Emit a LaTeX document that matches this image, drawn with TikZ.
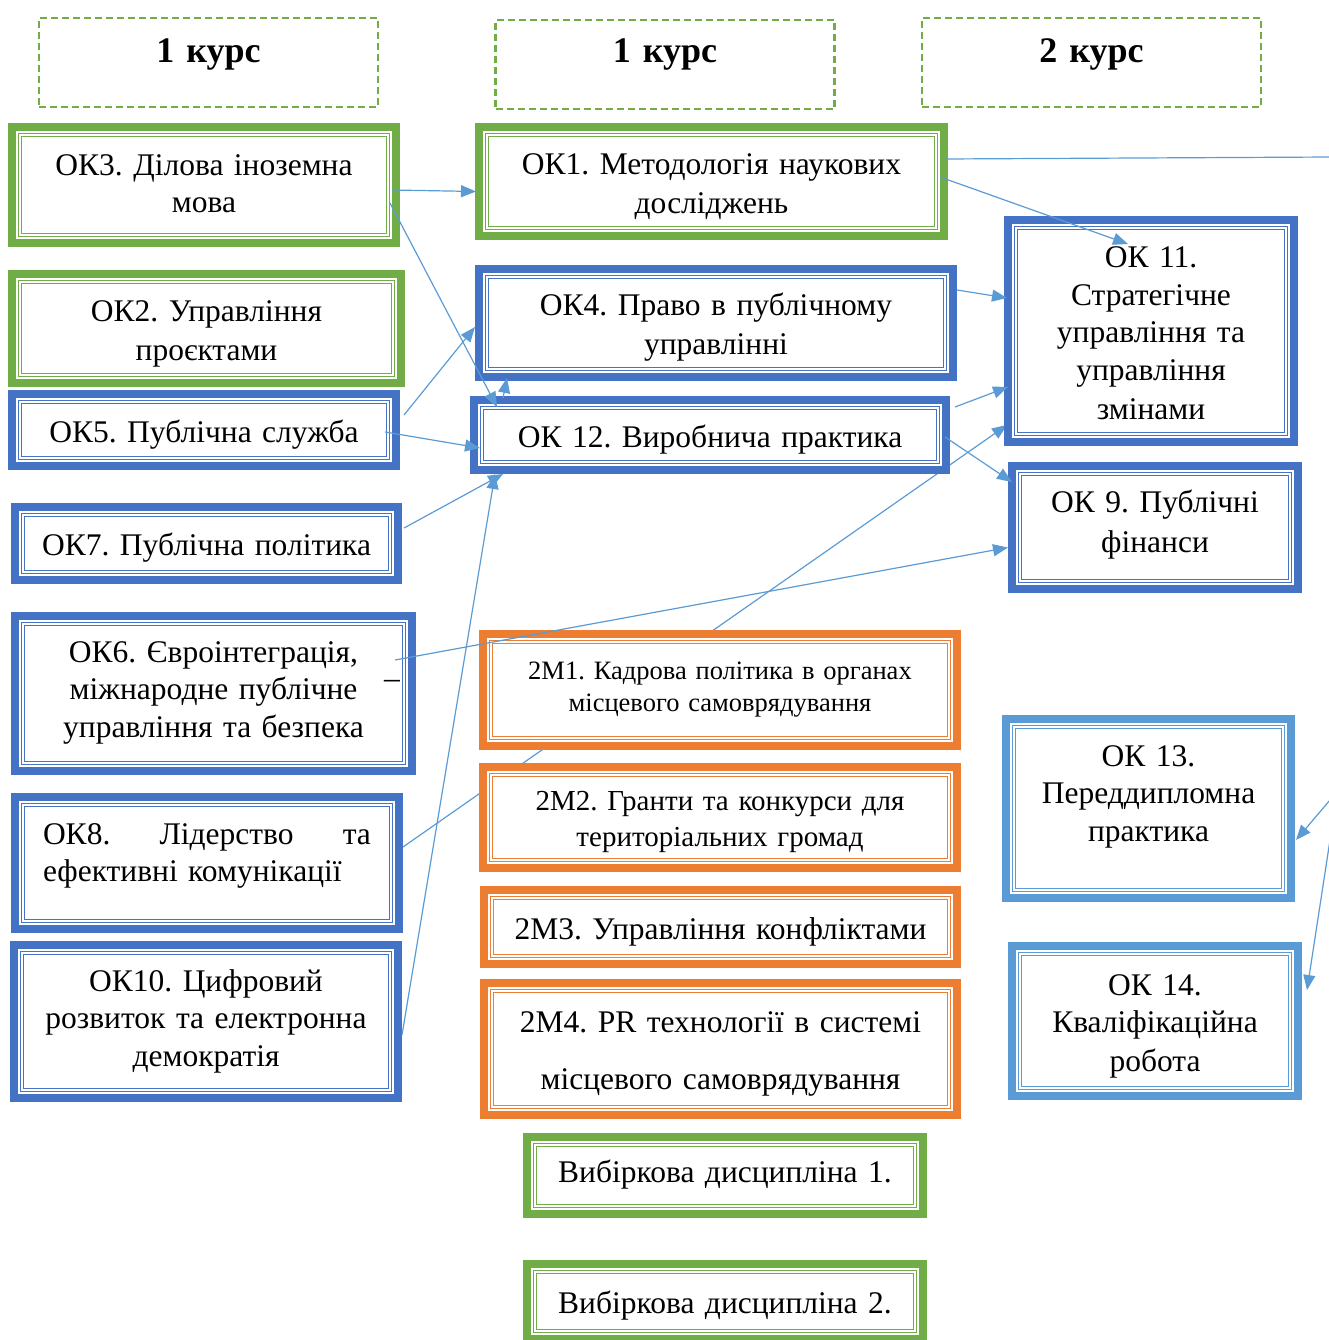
\documentclass[tikz,border=0pt]{standalone}
\usepackage{fontspec}
\setmainfont{Liberation Serif}
\usetikzlibrary{arrows.meta, backgrounds}
\frenchspacing

\definecolor{kgreen}{RGB}{112,173,71}
\definecolor{kblue}{RGB}{68,114,196}
\definecolor{korange}{RGB}{237,125,49}
\definecolor{klight}{RGB}{91,155,213}

% line strut, so that every box centres its lines the same way
\newcommand{\linestrut}{\rule[-0.2em]{0pt}{1.19em}}
% empty last line, pushes the text up in its box
\newcommand{\padlow}[1]{\\[#1]\mbox{}}

\tikzset{
  size/.style 2 args={minimum width=#1pt, minimum height=#2pt, text width=#1pt},
  course/.style={draw=kgreen, line width=2.2pt, dash pattern=on 7pt off 4pt,
    size={339}{89}, inner sep=0pt, align=center,
    font=\bfseries\fontsize{36pt}{43pt}\selectfont,
    execute at begin node=\linestrut, execute at end node=\linestrut},
  disc/.style={draw=#1, line width=8pt, fill=white, inner sep=0pt, outer sep=0pt,
    align=center, font=\fontsize{31.5pt}{37.5pt}\selectfont,
    execute at begin node=\linestrut, execute at end node=\linestrut,
    path picture={\draw[#1, line width=1.3pt, double=white, double distance=2pt]
      ([shift={(8pt,-8pt)}]path picture bounding box.north west) rectangle
      ([shift={(-8pt,8pt)}]path picture bounding box.south east);}},
  link/.style={draw=klight, line width=1.2pt},
  arrowlink/.style={link, -{Triangle[length=15pt,width=12pt]}},
}

\begin{document}
\begin{tikzpicture}[x=1pt, y=-1pt]
\useasboundingbox (0,0) rectangle (1328,1340);

% courses
\node[course] (year1a) at (208.5,62.5) {1 курс\padlow{-15.5pt}};
\node[course] (year1b) at (665,64.5) {1 курс\padlow{-11.5pt}};
\node[course] (year2) at (1091.5,62.5) {2 курс\padlow{-15.5pt}};

% left column
\node[disc=kgreen, size={384}{116}] (ok3) at (204,185)
  {ОК3. Ділова іноземна\\мова\padlow{-30.5pt}};
\node[disc=kgreen, size={389}{109}] (ok2) at (206.5,328.5)
  {ОК2. Управління\\проєктами};
\node[disc=kblue, size={384}{72}] (ok5) at (204,430)
  {ОК5. Публічна служба};
\node[disc=kblue, size={383}{73}] (ok7) at (206.5,543.5)
  {ОК7. Публічна політика};
\node[disc=kblue, size={397}{155}] (ok6) at (213.5,693.5)
  {ОК6. Євроінтеграція,\\міжнародне публічне\\управління та безпека\padlow{-26.5pt}};
\node[font=\fontsize{31.5pt}{37.5pt}\selectfont, inner sep=0pt] (ok6dash) at (392,684) {–};
\node[disc=kblue, size={384}{132}, text width=328pt, align=left] (ok8) at (207,863)
  {ОК8.\hfill Лідерство\hfill та\\ефективні комунікації\padlow{-14.5pt}};
\node[disc=kblue, size={384}{153}] (ok10) at (206,1021.5)
  {ОК10. Цифровий\\розвиток та електронна\\демократія\padlow{-28.5pt}};

% middle column
\node[disc=kgreen, size={465}{109}] (ok1) at (711.5,181.5)
  {ОК1. Методологія наукових\\досліджень};
\node[disc=kblue, size={474}{108}] (ok4) at (716,323)
  {ОК4. Право в публічному\\управлінні};
\node[disc=kblue, size={472}{70}] (ok12) at (710,435)
  {ОК 12. Виробнича практика};
\node[disc=korange, size={474}{112}, font=\fontsize{26.5pt}{32pt}\selectfont] (m1) at (720,690)
  {2М1. Кадрова політика в органах\\місцевого самоврядування\padlow{-21.5pt}};
\node[disc=korange, size={474}{101}, font=\fontsize{29pt}{33pt}\selectfont] (m2) at (720,817.5)
  {2М2. Гранти та конкурси для\\територіальних громад};
\node[disc=korange, size={473}{74}] (m3) at (720.5,927)
  {2М3. Управління конфліктами};
\node[disc=korange, size={473}{132}] (m4) at (720.5,1049)
  {2М4. PR технології в системі\\[19.5pt]місцевого самоврядування};
\node[disc=kgreen, size={396}{77}] (el1) at (725,1175.5)
  {Вибіркова дисципліна 1.\padlow{-27.5pt}};
\node[disc=kgreen, size={396}{75}] (el2) at (725,1301.5)
  {Вибіркова дисципліна 2.};

% right column
\node[disc=kblue, size={286}{222}] (ok11) at (1151,331)
  {ОК 11.\\Стратегічне\\управління та\\управління\\змінами};
\node[disc=kblue, size={286}{123}] (ok9) at (1155,527.5)
  {ОК 9. Публічні\\[2pt]фінанси\padlow{-23.5pt}};
\node[disc=klight, size={285}{179}] (ok13) at (1148.5,808.5)
  {ОК 13.\\Переддипломна\\практика\padlow{-4.5pt}};
\node[disc=klight, size={286}{150}] (ok14) at (1155,1021)
  {ОК 14.\\Кваліфікаційна\\робота};

% lines coming in from beyond the right edge
\coordinate (feed1) at (1332,157);
\coordinate (feed2) at (1330,800);
\coordinate (feed3) at (1330,840);

% this one runs behind the 2M boxes
\begin{scope}[on background layer]
  \draw[arrowlink] ([shift={(4,-16)}]ok8.east) -- ([shift={(-1,-17)}]ok11.south west);
\end{scope}

\draw[arrowlink] ([shift={(-4,5)}]ok3.east) -- ([shift={(-3,10)}]ok1.west);
\draw[arrowlink] ([shift={(-6,18)}]ok3.east) -- ([shift={(23,7)}]ok12.north west);
\draw[arrowlink] ([shift={(8,-15)}]ok5.east) -- ([shift={(-4,4)}]ok4.west);
\draw[arrowlink] ([shift={(-11,2)}]ok5.east) -- ([shift={(6,13)}]ok12.west);
\draw[arrowlink] ([shift={(29,-2)}]ok12.north west) -- ([shift={(28,1)}]ok4.south west);
\draw[arrowlink] ([shift={(6,-15.5)}]ok7.east) -- ([shift={(29,4)}]ok12.south west);
\draw[arrowlink] ([shift={(4,13.5)}]ok10.east) -- ([shift={(21,4)}]ok12.south west);
\draw[arrowlink] ([shift={(-17,-33.5)}]ok6.east) -- ([shift={(-4,20)}]ok9.west);
\draw[arrowlink] ([shift={(-4,-4.5)}]ok1.east) -- ([shift={(-23,24)}]ok11.north);
\draw[link] ([shift={(1,-22.5)}]ok1.east) -- (feed1);
\draw[arrowlink] ([shift={(4,-33)}]ok4.east) -- ([shift={(-1,-33)}]ok11.west);
\draw[arrowlink] ([shift={(9,-28)}]ok12.east) -- ([shift={(0,56)}]ok11.west);
\draw[arrowlink] ([shift={(-1,2)}]ok12.east) -- ([shift={(0,16)}]ok9.north west);
\draw[arrowlink] (feed2) -- ([shift={(5,31.5)}]ok13.east);
\draw[arrowlink] (feed3) -- ([shift={(9,-31)}]ok14.east);
\end{tikzpicture}
\end{document}
